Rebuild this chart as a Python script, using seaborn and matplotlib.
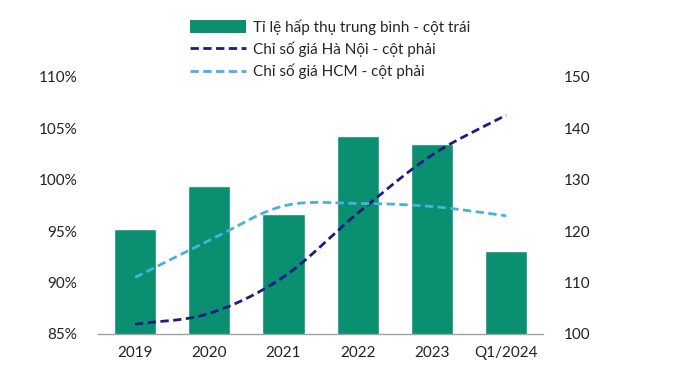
import numpy as np
import pandas as pd
import matplotlib
matplotlib.use("Agg")
import matplotlib.pyplot as plt
import seaborn as sns
from matplotlib.patches import Patch
from matplotlib.lines import Line2D

# Data
categories = ["2019", "2020", "2021", "2022", "2023", "Q1/2024"]
absorption = [95.2, 99.4, 96.7, 104.3, 103.5, 93.1]      # % - left axis
price_hn = [101.9, 104.0, 111.1, 123.5, 134.8, 142.6]    # index - right axis
price_hcm = [111.0, 118.2, 124.9, 125.4, 124.8, 123.0]   # index - right axis

BAR_COLOR = "#0a9070"
HN_COLOR = "#1f1a85"
HCM_COLOR = "#4ab0dc"
DASH = (3, 1.6)


# Excel-like smoothed line (Catmull-Rom through the points)
def smooth(x, y, n=30):
    x = np.asarray(x, float)
    y = np.asarray(y, float)
    px = np.concatenate([[2 * x[0] - x[1]], x, [2 * x[-1] - x[-2]]])
    py = np.concatenate([[2 * y[0] - y[1]], y, [2 * y[-1] - y[-2]]])
    xs, ys = [], []
    t = np.linspace(0, 1, n)
    for i in range(1, len(px) - 2):
        for p, out in ((px, xs), (py, ys)):
            p0, p1, p2, p3 = p[i - 1], p[i], p[i + 1], p[i + 2]
            seg = 0.5 * ((2 * p1) + (-p0 + p2) * t
                         + (2 * p0 - 5 * p1 + 4 * p2 - p3) * t ** 2
                         + (-p0 + 3 * p1 - 3 * p2 + p3) * t ** 3)
            out.append(seg if i == 1 else seg[1:])
    return np.concatenate(xs), np.concatenate(ys)


sns.set_style("white")
plt.rcParams["font.family"] = ["Lato", "DejaVu Sans"]

fig = plt.figure(figsize=(6.8, 3.73), dpi=100)
ax = fig.add_axes([0.144, 0.1046, 0.655, 0.689])

df = pd.DataFrame({"cat": categories, "val": absorption})
sns.barplot(data=df, x="cat", y="val", color=BAR_COLOR, saturation=1,
            width=0.57, ax=ax)
ax.set_ylim(85, 110)
ax.set_xlim(-0.5, len(categories) - 0.5)
ax.set_yticks(np.arange(85, 111, 5))
ax.set_yticklabels([f"{v}%" for v in range(85, 111, 5)])
ax.set_xlabel("")
ax.set_ylabel("")

ax2 = ax.twinx()
idx = np.arange(len(categories))
hx, hy = smooth(idx, price_hn)
cx, cy = smooth(idx, price_hcm)
ax2.plot(hx, hy, color=HN_COLOR, lw=2.0, dashes=DASH)
ax2.plot(cx, cy, color=HCM_COLOR, lw=2.0, dashes=DASH)
ax2.set_ylim(100, 150)
ax2.set_yticks(np.arange(100, 151, 10))

for a in (ax, ax2):
    for s in a.spines.values():
        s.set_visible(False)
    a.tick_params(length=0, labelsize=11, colors="#222222")
ax.spines["bottom"].set_visible(True)
ax.spines["bottom"].set_color("#a0a0a0")
ax.spines["bottom"].set_linewidth(1.0)
ax.tick_params(axis="y", pad=15)
ax.tick_params(axis="x", pad=9)
ax2.tick_params(axis="y", pad=15)

handles = [
    Patch(facecolor=BAR_COLOR, edgecolor="none"),
    Line2D([0], [0], color=HN_COLOR, lw=2, dashes=DASH),
    Line2D([0], [0], color=HCM_COLOR, lw=2, dashes=DASH),
]
labels = [
    "Tỉ lệ hấp thụ trung bình - cột trái",
    "Chỉ số giá Hà Nội - cột phải",
    "Chỉ số giá HCM - cột phải",
]
fig.legend(handles, labels, loc="upper left", bbox_to_anchor=(0.27, 0.965),
           frameon=False, fontsize=11, handlelength=3.7, handleheight=0.9,
           handletextpad=0.45, labelspacing=0.45, borderaxespad=0)

fig.savefig("out.png", dpi=100)
